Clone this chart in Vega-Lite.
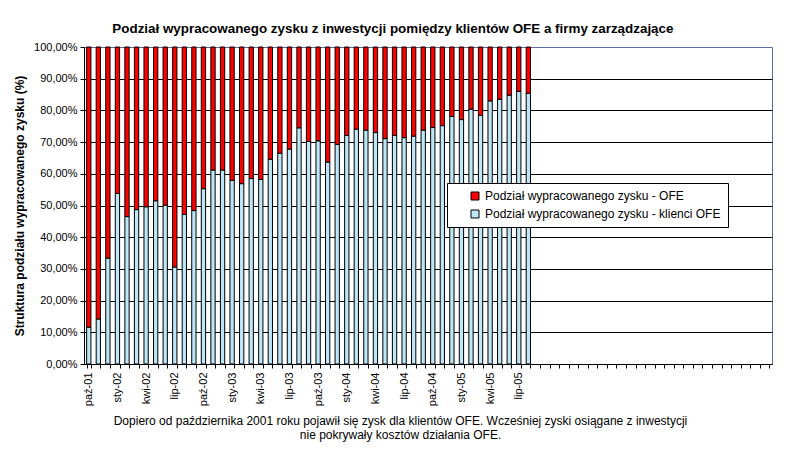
{
  "$schema": "https://vega.github.io/schema/vega-lite/v6.json",
  "width": 688,
  "height": 317,
  "autosize": {"type": "none"},
  "padding": {"left": 84, "top": 47, "right": 16, "bottom": 96},
  "background": "white",
  "title": {
    "text": "Podział wypracowanego zysku z inwestycji pomiędzy klientów OFE a firmy zarządzające",
    "font": "Liberation Sans",
    "fontSize": 13.4,
    "fontWeight": "bold",
    "color": "black",
    "anchor": "middle",
    "frame": "bounds",
    "baseline": "alphabetic",
    "offset": 20,
    "dy": 25
  },
  "data": {
    "values": [
      {"miesiac": "paź-01", "klienci": 0.116, "ofe": 0.884},
      {"miesiac": "lis-01", "klienci": 0.142, "ofe": 0.858},
      {"miesiac": "gru-01", "klienci": 0.334, "ofe": 0.666},
      {"miesiac": "sty-02", "klienci": 0.538, "ofe": 0.462},
      {"miesiac": "lut-02", "klienci": 0.465, "ofe": 0.535},
      {"miesiac": "mar-02", "klienci": 0.487, "ofe": 0.513},
      {"miesiac": "kwi-02", "klienci": 0.496, "ofe": 0.504},
      {"miesiac": "maj-02", "klienci": 0.515, "ofe": 0.485},
      {"miesiac": "cze-02", "klienci": 0.501, "ofe": 0.499},
      {"miesiac": "lip-02", "klienci": 0.306, "ofe": 0.694},
      {"miesiac": "sie-02", "klienci": 0.472, "ofe": 0.528},
      {"miesiac": "wrz-02", "klienci": 0.484, "ofe": 0.516},
      {"miesiac": "paź-02", "klienci": 0.553, "ofe": 0.447},
      {"miesiac": "lis-02", "klienci": 0.612, "ofe": 0.388},
      {"miesiac": "gru-02", "klienci": 0.612, "ofe": 0.388},
      {"miesiac": "sty-03", "klienci": 0.579, "ofe": 0.421},
      {"miesiac": "lut-03", "klienci": 0.569, "ofe": 0.431},
      {"miesiac": "mar-03", "klienci": 0.585, "ofe": 0.415},
      {"miesiac": "kwi-03", "klienci": 0.582, "ofe": 0.418},
      {"miesiac": "maj-03", "klienci": 0.646, "ofe": 0.354},
      {"miesiac": "cze-03", "klienci": 0.665, "ofe": 0.335},
      {"miesiac": "lip-03", "klienci": 0.678, "ofe": 0.322},
      {"miesiac": "sie-03", "klienci": 0.745, "ofe": 0.255},
      {"miesiac": "wrz-03", "klienci": 0.702, "ofe": 0.298},
      {"miesiac": "paź-03", "klienci": 0.704, "ofe": 0.296},
      {"miesiac": "lis-03", "klienci": 0.637, "ofe": 0.363},
      {"miesiac": "gru-03", "klienci": 0.693, "ofe": 0.307},
      {"miesiac": "sty-04", "klienci": 0.721, "ofe": 0.279},
      {"miesiac": "lut-04", "klienci": 0.741, "ofe": 0.259},
      {"miesiac": "mar-04", "klienci": 0.738, "ofe": 0.262},
      {"miesiac": "kwi-04", "klienci": 0.730, "ofe": 0.270},
      {"miesiac": "maj-04", "klienci": 0.711, "ofe": 0.289},
      {"miesiac": "cze-04", "klienci": 0.721, "ofe": 0.279},
      {"miesiac": "lip-04", "klienci": 0.714, "ofe": 0.286},
      {"miesiac": "sie-04", "klienci": 0.719, "ofe": 0.281},
      {"miesiac": "wrz-04", "klienci": 0.738, "ofe": 0.262},
      {"miesiac": "paź-04", "klienci": 0.746, "ofe": 0.254},
      {"miesiac": "lis-04", "klienci": 0.752, "ofe": 0.248},
      {"miesiac": "gru-04", "klienci": 0.781, "ofe": 0.219},
      {"miesiac": "sty-05", "klienci": 0.771, "ofe": 0.229},
      {"miesiac": "lut-05", "klienci": 0.804, "ofe": 0.196},
      {"miesiac": "mar-05", "klienci": 0.784, "ofe": 0.216},
      {"miesiac": "kwi-05", "klienci": 0.830, "ofe": 0.170},
      {"miesiac": "maj-05", "klienci": 0.835, "ofe": 0.165},
      {"miesiac": "cze-05", "klienci": 0.848, "ofe": 0.152},
      {"miesiac": "lip-05", "klienci": 0.860, "ofe": 0.140},
      {"miesiac": "sie-05", "klienci": 0.854, "ofe": 0.146}
    ]
  },
  "transform": [{"fold": ["klienci", "ofe"], "as": ["seria", "udzial"]}],
  "mark": {"type": "bar", "stroke": "black", "strokeWidth": 1},
  "encoding": {
    "x": {
      "field": "miesiac",
      "type": "ordinal",
      "sort": null,
      "scale": {
        "domain": [
          "paź-01", "lis-01", "gru-01",
          "sty-02", "lut-02", "mar-02", "kwi-02", "maj-02", "cze-02", "lip-02", "sie-02", "wrz-02", "paź-02", "lis-02", "gru-02",
          "sty-03", "lut-03", "mar-03", "kwi-03", "maj-03", "cze-03", "lip-03", "sie-03", "wrz-03", "paź-03", "lis-03", "gru-03",
          "sty-04", "lut-04", "mar-04", "kwi-04", "maj-04", "cze-04", "lip-04", "sie-04", "wrz-04", "paź-04", "lis-04", "gru-04",
          "sty-05", "lut-05", "mar-05", "kwi-05", "maj-05", "cze-05", "lip-05", "sie-05", "wrz-05", "paź-05", "lis-05", "gru-05",
          "sty-06", "lut-06", "mar-06", "kwi-06", "maj-06", "cze-06", "lip-06", "sie-06", "wrz-06", "paź-06", "lis-06", "gru-06",
          "sty-07", "lut-07", "mar-07", "kwi-07", "maj-07", "cze-07", "lip-07", "sie-07", "wrz-07"
        ],
        "paddingInner": 0.55,
        "paddingOuter": 0.275
      },
      "axis": {
        "title": [
          "Dopiero od października 2001 roku pojawił się zysk dla klientów OFE. Wcześniej zyski osiągane z inwestycji",
          "nie pokrywały kosztów działania OFE."
        ],
        "titleFontWeight": "normal",
        "titleFontSize": 12,
        "titleColor": "black",
        "titleX": 316,
        "titleY": 51,
        "titleAlign": "center",
        "titleBaseline": "top",
        "titleLineHeight": 14.5,
        "labelAngle": -90,
        "labelFontSize": 11,
        "labelColor": "black",
        "labelPadding": 4,
        "labelOverlap": false,
        "labelExpr": "indexof(['paź-01','sty-02','kwi-02','lip-02','paź-02','sty-03','kwi-03','lip-03','paź-03','sty-04','kwi-04','lip-04','paź-04','sty-05','kwi-05','lip-05'], datum.value) >= 0 ? datum.value : ''",
        "tickSize": 4,
        "tickColor": "black",
        "tickBand": "extent",
        "domainColor": "black",
        "grid": false
      }
    },
    "y": {
      "field": "udzial",
      "type": "quantitative",
      "stack": "zero",
      "scale": {"domain": [0, 1], "nice": false},
      "axis": {
        "title": "Struktura podziału wypracowanego zysku (%)",
        "titleFontSize": 12,
        "titleFontWeight": "bold",
        "titleColor": "black",
        "titlePadding": 7,
        "values": [0, 0.1, 0.2, 0.3, 0.4, 0.5, 0.6, 0.7, 0.8, 0.9, 1],
        "labelExpr": "replace(format(datum.value, '.2%'), '.', ',')",
        "labelFontSize": 11,
        "labelColor": "black",
        "labelPadding": 3,
        "tickSize": 4,
        "tickColor": "black",
        "domainColor": "black",
        "grid": true,
        "gridColor": {"condition": {"test": "datum.value >= 1", "value": "transparent"}, "value": "black"},
        "gridOpacity": 1
      }
    },
    "color": {
      "field": "seria",
      "type": "nominal",
      "scale": {"domain": ["ofe", "klienci"], "range": ["#ff0000", "#bde6f6"]},
      "legend": {
        "orient": "none",
        "legendX": 363,
        "legendY": 136,
        "title": null,
        "fillColor": "white",
        "strokeColor": "black",
        "padding": 7,
        "symbolType": "square",
        "symbolSize": 64,
        "symbolStrokeColor": "black",
        "symbolStrokeWidth": 1,
        "symbolOffset": 15,
        "labelFontSize": 12,
        "labelColor": "black",
        "labelOffset": 4,
        "labelLimit": 400,
        "rowPadding": 6,
        "labelExpr": "datum.value == 'ofe' ? 'Podział wypracowanego zysku - OFE' : 'Podział wypracowanego zysku - klienci OFE'"
      }
    },
    "order": {"field": "seria", "sort": "ascending"}
  },
  "config": {
    "font": "Liberation Sans",
    "view": {"stroke": "#5a6aa6", "strokeWidth": 1}
  }
}
